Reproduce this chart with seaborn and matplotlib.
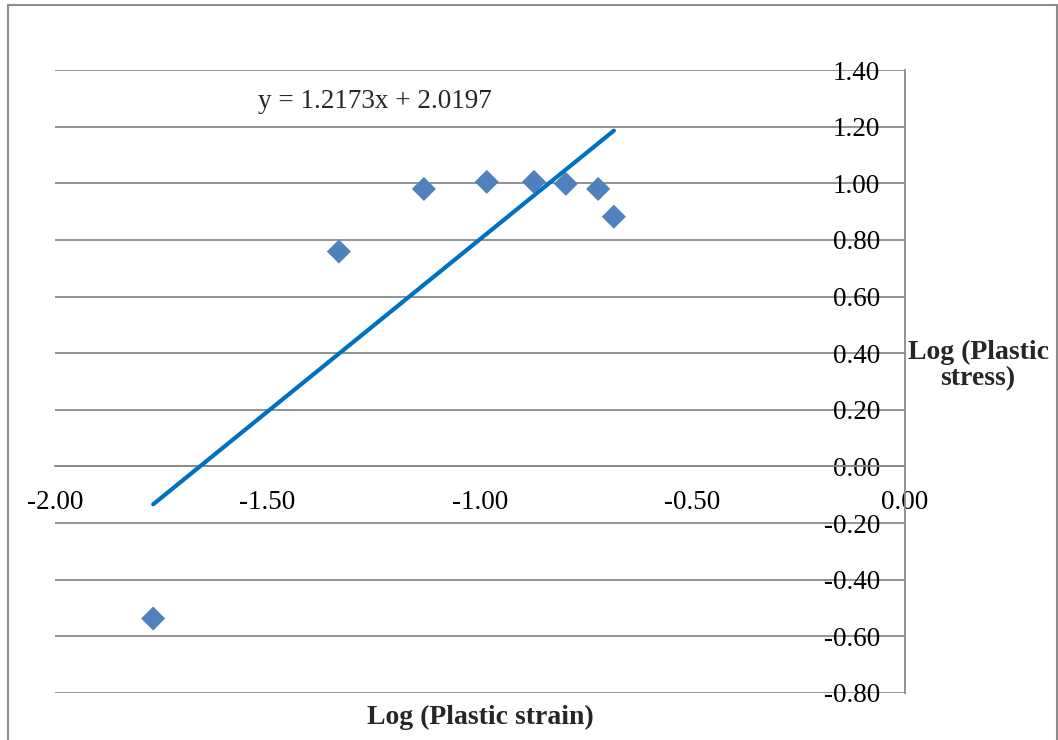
import matplotlib
matplotlib.use("Agg")
import matplotlib.pyplot as plt
import matplotlib.patches as mpatches
import numpy as np
import pandas as pd
import seaborn as sns

# ---- data ----
log_strain = [-1.769, -1.332, -1.132, -0.984, -0.873, -0.798, -0.722, -0.685]
log_stress = [-0.537, 0.759, 0.980, 1.005, 1.005, 0.998, 0.980, 0.882]
slope = 1.2173
intercept = 2.0197
x_ticks = [-2.0, -1.5, -1.0, -0.5, 0.0]
y_ticks = [-0.8, -0.6, -0.4, -0.2, 0.0, 0.2, 0.4, 0.6, 0.8, 1.0, 1.2, 1.4]
equation_label = "y = 1.2173x + 2.0197"
x_title = "Log (Plastic strain)"
y_title = "Log (Plastic\nstress)"

sns.set_style("white")
plt.rcParams['font.family'] = ['Liberation Serif', 'DejaVu Serif']

W, H = 1058, 740
fig = plt.figure(figsize=(W / 100, H / 100), dpi=100)
ax = fig.add_axes([55 / W, 1 - 693 / H, 850 / W, 623 / H])

df = pd.DataFrame({"x": log_strain, "y": log_stress})

# trendline
xs = np.array([min(log_strain), max(log_strain)])
trend = pd.DataFrame({"x": xs, "y": slope * xs + intercept})
sns.lineplot(data=trend, x="x", y="y", ax=ax, color="#0070C0", linewidth=3.0,
             solid_capstyle="round", zorder=3)

sns.scatterplot(data=df, x="x", y="y", ax=ax, marker="D", s=150, color="#4F81BD",
                edgecolor="none", zorder=4)

ax.set_xlim(-2.0, 0.0)
ax.set_ylim(-0.8, 1.4)
ax.set_xticks(x_ticks)
ax.set_yticks(y_ticks)
ax.set_xticklabels([f"{v:.2f}" for v in x_ticks])
ax.set_yticklabels([f"{v:.2f}" for v in y_ticks])

grid_c = "#8a8a8a"
ax.yaxis.grid(True, color=grid_c, linewidth=1.3)
ax.xaxis.grid(False)
ax.set_axisbelow(True)

for s in ["top", "left"]:
    ax.spines[s].set_visible(False)
ax.spines["right"].set_color(grid_c)
ax.spines["right"].set_linewidth(1.3)
ax.spines["bottom"].set_position(("data", 0))
ax.spines["bottom"].set_color(grid_c)
ax.spines["bottom"].set_linewidth(1.3)

ax.yaxis.tick_right()
ax.tick_params(axis="y", length=0, pad=-18, labelsize=19.5, colors="black")
plt.setp(ax.get_yticklabels(), ha="right", va="center_baseline")
ax.tick_params(axis="x", direction="out", length=5, width=1.3, color=grid_c,
               pad=12, labelsize=19.5, labelcolor="black")

ax.set_xlabel(x_title, fontsize=20, fontweight="bold")
ax.xaxis.set_label_coords(0.5, -0.0385)
ax.xaxis.label.set_va("center")
ax.set_ylabel(y_title, fontsize=20, fontweight="bold", rotation=0,
              ha="center", va="center", multialignment="center", linespacing=1.05)
ax.yaxis.set_label_position("right")
ax.yaxis.set_label_coords(1.086, 0.567)

ax.text(-1.247, 1.289, equation_label, fontsize=19.5, ha="center", va="center")

border = mpatches.Rectangle((8 / W, -0.05), (1057 - 8) / W, 1.05 - 5 / H,
                            transform=fig.transFigure, fill=False,
                            edgecolor="#8c8c8c", linewidth=1.5)
fig.patches.append(border)

fig.savefig("out.png", dpi=100)
